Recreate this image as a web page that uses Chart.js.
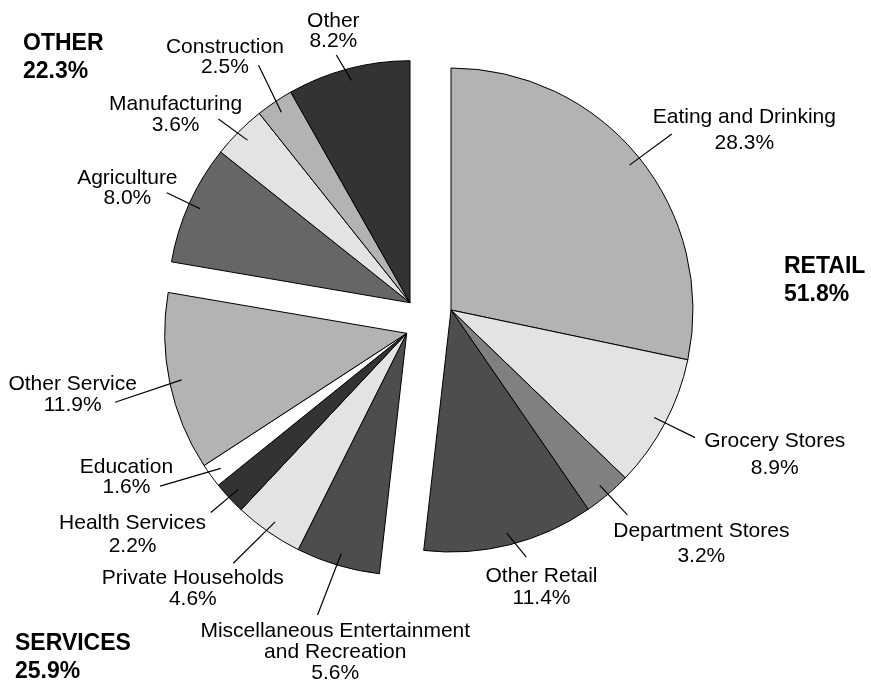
<!DOCTYPE html>
<html>
<head>
<meta charset="utf-8">
<script src="https://cdn.jsdelivr.net/npm/chart.js@4"></script>
<style>
  html, body { margin: 0; padding: 0; background: #fff; }
  #wrap { width: 871px; height: 682px; position: relative; }
</style>
</head>
<body>
<div id="wrap"><canvas id="myChart"></canvas></div>
<script>
// employment share by industry, grouped into three sectors
const categories = [
  'Eating and Drinking', 'Grocery Stores', 'Department Stores', 'Other Retail',
  'Miscellaneous Entertainment\nand Recreation', 'Private Households', 'Health Services', 'Education', 'Other Service',
  'Agriculture', 'Manufacturing', 'Construction', 'Other'
]
const shares = [28.3, 8.9, 3.2, 11.4, 5.6, 4.6, 2.2, 1.6, 11.9, 8.0, 3.6, 2.5, 8.2]
const sectors = ['RETAIL', 'SERVICES', 'OTHER']
const sectorOf = [0, 0, 0, 0, 1, 1, 1, 1, 1, 2, 2, 2, 2]

// styling
const fills = [
  '#b3b3b3', '#e3e3e3', '#808080', '#4d4d4d',
  '#4d4d4d', '#e3e3e3', '#333333', '#ffffff', '#b3b3b3',
  '#666666', '#e3e3e3', '#b3b3b3', '#333333'
]
// how far each sector is pulled out of the pie (px)
const sectorShift = [[36.5, 2.5], [-7.8, 25.8], [-4.5, -4.8]]
const sectorTitlePos = [[784, 273], [15, 650], [23, 50]]
// callouts: turn = degrees off the slice middle, reach = line end in radii,
// dx/dy = text centre / first baseline from the line end, gap = line spacing
const callouts = [
  {turn: 0.5, reach: 1.167, dx: 72.5, dy: -10.7, gap: 26},
  {turn: -0.3, reach: 1.138, dx: 79.7, dy: 9, gap: 27.3},
  {turn: -0.4, reach: 1.117, dx: 74, dy: 22.3, gap: 24.4},
  {turn: -2.9, reach: 1.068, dx: 15.2, dy: 24.4, gap: 22.3},
  {turn: 1.0, reach: 1.221, dx: 17.7, dy: 21.7, gap: 21.3},
  {turn: 2.1, reach: 1.19, dx: -40.5, dy: 20.7, gap: 21},
  {turn: 0.4, reach: 1.097, dx: -78.2, dy: 17, gap: 22.4},
  {turn: 4.2, reach: 1.199, dx: -33.7, dy: -13.3, gap: 19.6},
  {turn: -1.6, reach: 1.238, dx: -42.5, dy: -12.3, gap: 20.7},
  {turn: 0.2, reach: 1.103, dx: -39.4, dy: -8.7, gap: 20},
  {turn: -1.2, reach: 1.097, dx: -42.8, dy: -9, gap: 20.7},
  {turn: 1.5, reach: 1.164, dx: -33.7, dy: -12.3, gap: 20.6},
  {turn: -1.8, reach: 1.068, dx: -3, dy: -28.3, gap: 20.6}
]
const FONT = '"Liberation Sans", Arial, Helvetica, sans-serif'

const sectorLayout = {
  id: 'sectorLayout',
  afterDatasetsUpdate(chart) {
    const {left, right, top, bottom} = chart.chartArea
    const cx = (left + right) / 2
    const cy = (top + bottom) / 2
    chart.getDatasetMeta(0).data.forEach((arc, i) => {
      const [dx, dy] = sectorShift[sectorOf[i]]
      arc.x = cx + dx
      arc.y = cy + dy
    })
  },
  afterDatasetsDraw(chart) {
    const ctx = chart.ctx
    const arcs = chart.getDatasetMeta(0).data
    ctx.save()
    ctx.strokeStyle = '#000'
    ctx.fillStyle = '#000'
    ctx.lineWidth = 1.2
    ctx.font = '21px ' + FONT
    ctx.textAlign = 'center'
    ctx.textBaseline = 'alphabetic'
    arcs.forEach((arc, i) => {
      const c = callouts[i]
      const mid = (arc.startAngle + arc.endAngle) / 2
      const a = mid + c.turn * Math.PI / 180
      const r = arc.outerRadius
      const x0 = arc.x + Math.cos(mid) * r * 0.95
      const y0 = arc.y + Math.sin(mid) * r * 0.95
      const x1 = arc.x + Math.cos(a) * r * c.reach
      const y1 = arc.y + Math.sin(a) * r * c.reach
      ctx.beginPath()
      ctx.moveTo(x0, y0)
      ctx.lineTo(x1, y1)
      ctx.stroke()
      const lines = categories[i].split('\n').concat(shares[i].toFixed(1) + '%')
      lines.forEach((t, j) => ctx.fillText(t, x1 + c.dx, y1 + c.dy + j * c.gap))
    })

    // sector totals
    ctx.font = 'bold 23px ' + FONT
    ctx.textAlign = 'left'
    sectors.forEach((name, s) => {
      const total = shares.filter((v, i) => sectorOf[i] === s).reduce((a, b) => a + b, 0)
      const [x, y] = sectorTitlePos[s]
      ctx.fillText(name, x, y)
      ctx.fillText(total.toFixed(1) + '%', x, y + 28)
    })
    ctx.restore()
  }
}

const ctx = document.getElementById('myChart').getContext('2d')
const myChart = new Chart(ctx, {
  type: 'pie',
  data: {
    labels: categories,
    datasets: [{
      data: shares,
      backgroundColor: fills,
      borderColor: '#000',
      borderWidth: 1
    }]
  },
  options: {
    responsive: true,
    maintainAspectRatio: false,
    animation: false,
    layout: {padding: {left: 172, right: 214, top: 65, bottom: 132}},
    plugins: {
      legend: {display: false},
      tooltip: {enabled: false}
    }
  },
  plugins: [sectorLayout]
})
</script>
</body>
</html>
